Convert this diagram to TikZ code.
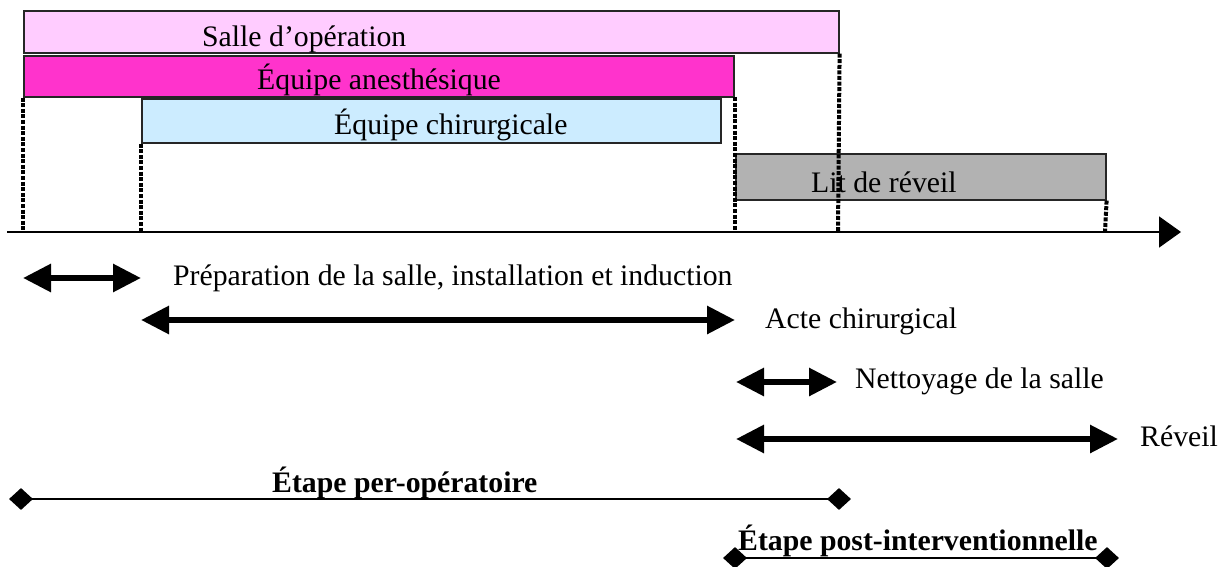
\documentclass[tikz,border=0pt]{standalone}
\usepackage{fontspec}
\setmainfont{Liberation Serif}
\usetikzlibrary{arrows.meta,shapes.geometric}

\definecolor{salleC}{HTML}{FFCCFF}
\definecolor{anesthC}{HTML}{FF33CC}
\definecolor{chirC}{HTML}{CCECFF}
\definecolor{litC}{HTML}{B2B2B2}

\tikzset{
  bar/.style={draw=black!85, line width=1.6pt, rectangle, inner sep=0pt, anchor=north west},
  lbl/.style={anchor=base west, inner sep=0pt, font=\fontsize{29.75}{36}\selectfont},
  blbl/.style={anchor=base west, inner sep=0pt, font=\fontsize{29.75}{36}\selectfont\bfseries},
  tick/.style={line width=4pt, dash pattern=on 4pt off 1.6pt},
  axisline/.style={line width=2pt, -{Triangle[length=22pt,width=31pt]}},
  span/.style={line width=6pt, {Triangle[length=28pt,width=27pt]}-{Triangle[length=28pt,width=27pt]}},
  phase/.style={line width=2pt},
  endmark/.style={diamond, fill=black, inner sep=0pt, minimum width=24pt, minimum height=22pt}
}

\begin{document}
\begin{tikzpicture}[x=1pt,y=-1pt]
\useasboundingbox (0,0) rectangle (1225,567);

% time bars
\node[bar, fill=salleC,  minimum width=815pt, minimum height=42pt] (salle)  at (23,10)  {};
\node[bar, fill=anesthC, minimum width=710pt, minimum height=41pt] (anesth) at (23,55)  {};
\node[bar, fill=chirC,   minimum width=579pt, minimum height=44pt] (chir)   at (141,98) {};
\node[bar, fill=litC,    minimum width=370pt, minimum height=46pt] (lit)    at (735,153) {};

\node[lbl] (tsalle)  at (202,47)  {Salle d’opération};
\node[lbl] (tanesth) at (257,90)  {Équipe anesthésique};
\node[lbl] (tchir)   at (334,135) {Équipe chirurgicale};
\node[lbl] (tlit)    at (811,192) {Lit de réveil};

% time axis
\coordinate (ax0) at (7,232);
\coordinate (ax1) at (1181,232);
\draw[axisline] (ax0) -- (ax1);

% instants projected on the axis
\coordinate (p0) at (23,232);
\coordinate (p1) at (141,232);
\coordinate (p2) at (735,232);
\coordinate (p3) at (838,232);
\coordinate (p4) at (1105,232);
\draw[tick] (anesth.south west) -- (p0);
\draw[tick] (chir.south west) -- (p1);
\draw[tick] (735,97) -- (p2);
\draw[tick] (salle.south east) -- (p3);
\draw[tick] (lit.south east) -- (p4);

% durations
\coordinate (a1) at (23,278);   \coordinate (b1) at (141,278);
\coordinate (a2) at (141,320);  \coordinate (b2) at (735,320);
\coordinate (a3) at (736,382);  \coordinate (b3) at (837,382);
\coordinate (a4) at (736,439);  \coordinate (b4) at (1118,439);
\draw[span] (a1) -- (b1);
\draw[span] (a2) -- (b2);
\draw[span] (a3) -- (b3);
\draw[span] (a4) -- (b4);

\node[lbl] (prep)  at (173,285)  {Préparation de la salle, installation et induction};
\node[lbl] (acte)  at (765,328)  {Acte chirurgical};
\node[lbl] (nett)  at (855,388)  {Nettoyage de la salle};
\node[lbl] (rev)   at (1140,446) {Réveil};

% phases
\node[endmark] (e1) at (21,499)   {};
\node[endmark] (f1) at (839,499)  {};
\node[endmark] (e2) at (735,558)  {};
\node[endmark] (f2) at (1107,558) {};
\draw[phase] (e1.center) -- (f1.center);
\draw[phase] (e2.center) -- (f2.center);

\node[blbl] (per)  at (272,492) {Étape per-opératoire};
\node[blbl] (post) at (738,550) {Étape post-interventionnelle};
\end{tikzpicture}
\end{document}
